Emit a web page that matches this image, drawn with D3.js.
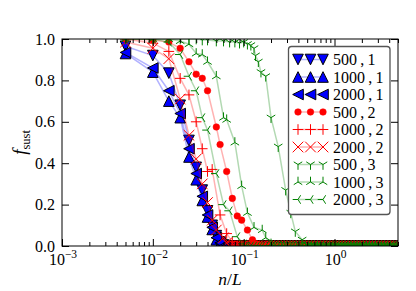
<!DOCTYPE html>
<html lang="en">
<head>
    <meta charset="utf-8">
    <script src="https://d3js.org/d3.v7.min.js"></script>
    <style>
        body { margin: 0; padding: 0; background: #fff; }
        svg text { font-family: "Liberation Serif", "DejaVu Serif", serif; fill: #000; }
    </style>
</head>
<body>
<svg id="chart" width="416" height="291"></svg>
<script>
    // ---- data ----
    var xBlue = [0.005, 0.01, 0.015, 0.02, 0.025, 0.03, 0.035, 0.04, 0.045, 0.05, 0.055, 0.06];
    var y500_1 = [0.965, 0.92, 0.835, 0.68, 0.51, 0.38, 0.27, 0.17, 0.10, 0.05, 0.02, 0.005];
    var y1000_1 = [0.93, 0.84, 0.70, 0.62, 0.43, 0.32, 0.22, 0.14, 0.08, 0.03, 0.01, 0];
    var y2000_1 = [0.935, 0.86, 0.75, 0.64, 0.47, 0.35, 0.24, 0.15, 0.09, 0.04, 0.015, 0];

    var x500_2 = [0.005, 0.01, 0.015, 0.02, 0.025, 0.03, 0.035, 0.04, 0.05, 0.055, 0.065, 0.075, 0.085, 0.095, 0.11, 0.125, 0.14];
    var y500_2 = [1.0, 0.995, 0.985, 0.955, 0.89, 0.83, 0.81, 0.75, 0.575, 0.49, 0.36, 0.23, 0.145, 0.125, 0.077, 0.03, 0.01];
    var x1000_2 = [0.005, 0.01, 0.015, 0.02, 0.025, 0.03, 0.035, 0.04, 0.045, 0.055, 0.065, 0.075];
    var y1000_2 = [1.0, 0.98, 0.94, 0.81, 0.73, 0.60, 0.47, 0.36, 0.37, 0.15, 0.06, 0.02];
    var x2000_2 = [0.005, 0.01, 0.015, 0.02, 0.025, 0.03, 0.035, 0.04, 0.045, 0.05, 0.06, 0.065];
    var y2000_2 = [0.985, 0.955, 0.905, 0.71, 0.535, 0.42, 0.30, 0.21, 0.125, 0.077, 0.04, 0.015];

    var x500_3 = [0.005, 0.01, 0.015, 0.02, 0.025, 0.03, 0.035, 0.04, 0.05, 0.06, 0.07, 0.08, 0.09, 0.1, 0.11, 0.12, 0.13, 0.135, 0.145, 0.155, 0.175, 0.2, 0.24, 0.29, 0.33, 0.37, 0.44, 0.5];
    var y500_3 = [1, 1, 1, 1, 1, 1, 0.995, 0.995, 0.99, 0.99, 0.985, 0.985, 0.98, 0.985, 0.975, 0.97, 0.955, 0.92, 0.89, 0.84, 0.82, 0.62, 0.48, 0.27, 0.16, 0.07, 0.03, 0.005];
    var x1000_3 = [0.005, 0.01, 0.015, 0.02, 0.025, 0.03, 0.035, 0.04, 0.05, 0.06, 0.065, 0.08, 0.095, 0.11, 0.13, 0.16, 0.175, 0.2];
    var y1000_3 = [1, 1, 1, 0.99, 0.975, 0.93, 0.925, 0.89, 0.82, 0.62, 0.61, 0.50, 0.29, 0.16, 0.09, 0.077, 0.04, 0.01];
    var x2000_3 = [0.005, 0.01, 0.015, 0.02, 0.025, 0.03, 0.035, 0.04, 0.05, 0.06, 0.07, 0.085, 0.1];
    var y2000_3 = [1, 1, 0.985, 0.925, 0.82, 0.75, 0.62, 0.56, 0.35, 0.2, 0.17, 0.045, 0.01];

    // every curve sits at zero for the rest of the range
    var tailX = [0.065, 0.07, 0.075, 0.08, 0.085, 0.09, 0.095, 0.1, 0.105, 0.11, 0.12, 0.13, 0.14, 0.15, 0.16, 0.175, 0.19, 0.205, 0.22, 0.24, 0.26, 0.28, 0.3, 0.325, 0.35, 0.38, 0.41, 0.44, 0.48, 0.52, 0.56, 0.6, 0.65, 0.7, 0.76, 0.82, 0.89, 0.96, 1.04, 1.12, 1.21, 1.31, 1.42, 1.53, 1.65, 1.78, 1.92, 2.08, 2.25, 2.43, 2.62, 2.83, 3.05, 3.3, 3.56, 3.85, 4.15, 4.5, 4.85];

    var labels = ["500\u2009,\u20091", "1000\u2009,\u20091", "2000\u2009,\u20091",
                  "500\u2009,\u20092", "1000\u2009,\u20092", "2000\u2009,\u20092",
                  "500\u2009,\u20093", "1000\u2009,\u20093", "2000\u2009,\u20093"];
    var xTicks = [1e-3, 1e-2, 1e-1, 1];
    var xTickExp = ["\u22123", "\u22122", "\u22121", "0"];
    var yTicks = [0, 0.2, 0.4, 0.6, 0.8, 1.0];

    var series = [
        { xs: xBlue, ys: y500_1, color: "#0000ff", marker: "v" },
        { xs: xBlue, ys: y1000_1, color: "#0000ff", marker: "^" },
        { xs: xBlue, ys: y2000_1, color: "#0000ff", marker: "<" },
        { xs: x500_2, ys: y500_2, color: "#ff0000", marker: "o" },
        { xs: x1000_2, ys: y1000_2, color: "#ff0000", marker: "+" },
        { xs: x2000_2, ys: y2000_2, color: "#ff0000", marker: "x" },
        { xs: x500_3, ys: y500_3, color: "#008000", marker: "1" },
        { xs: x1000_3, ys: y1000_3, color: "#008000", marker: "2" },
        { xs: x2000_3, ys: y2000_3, color: "#008000", marker: "3" }
    ];
    series.forEach(function (s, i) {
        s.label = labels[i];
        var pts = s.xs.map(function (xv, j) { return [xv, s.ys[j]]; });
        var last = s.xs[s.xs.length - 1];
        tailX.forEach(function (xv) { if (xv > last) pts.push([xv, 0]); });
        s.points = pts;
    });

    // ---- layout ----
    var svg = d3.select("#chart");
    var pL = 62, pT = 39, pR = 398, pB = 246;

    var x = d3.scaleLog().domain([1e-3, 5]).range([pL, pR]);
    var y = d3.scaleLinear().domain([0, 1]).range([pB, pT]);

    svg.append("clipPath").attr("id", "plotclip")
        .append("rect")
        .attr("x", pL).attr("y", pT)
        .attr("width", pR - pL).attr("height", pB - pT);

    function markerPath(m, s) {
        switch (m) {
            case "v": return "M" + (-s) + "," + (-s) + "L" + s + "," + (-s) + "L0," + s + "Z";
            case "^": return "M0," + (-s) + "L" + s + "," + s + "L" + (-s) + "," + s + "Z";
            case "<": return "M" + (-s) + ",0L" + s + "," + (-s) + "L" + s + "," + s + "Z";
            case "+": return "M" + (-s) + ",0H" + s + "M0," + (-s) + "V" + s;
            case "x": return "M" + (-s) + "," + (-s) + "L" + s + "," + s + "M" + (-s) + "," + s + "L" + s + "," + (-s);
            case "1": return "M0,0V" + s + "M0,0L" + (0.8 * s) + "," + (-0.5 * s) + "M0,0L" + (-0.8 * s) + "," + (-0.5 * s);
            case "2": return "M0,0V" + (-s) + "M0,0L" + (0.8 * s) + "," + (0.5 * s) + "M0,0L" + (-0.8 * s) + "," + (0.5 * s);
            case "3": return "M0,0H" + (-s) + "M0,0L" + (0.5 * s) + "," + (-0.8 * s) + "M0,0L" + (0.5 * s) + "," + (0.8 * s);
        }
    }

    function drawMarker(g, m, color, cx, cy) {
        if (m === "o") {
            g.append("circle").attr("cx", cx).attr("cy", cy).attr("r", 3.3)
                .attr("fill", color).attr("stroke", color).attr("stroke-width", 0.5);
            return;
        }
        var p = g.append("path")
            .attr("d", markerPath(m, 5.3))
            .attr("transform", "translate(" + cx + "," + cy + ")");
        if (m === "v" || m === "^" || m === "<") {
            p.attr("fill", color).attr("stroke", "#000").attr("stroke-width", 1);
        } else {
            p.attr("fill", "none").attr("stroke", color).attr("stroke-width", 1);
        }
    }

    var line = d3.line()
        .x(function (d) { return x(d[0]); })
        .y(function (d) { return y(d[1]); });

    var plot = svg.append("g").attr("clip-path", "url(#plotclip)");
    series.forEach(function (s) {
        var g = plot.append("g");
        g.append("path")
            .datum(s.points)
            .attr("d", line)
            .attr("fill", "none")
            .attr("stroke", s.color)
            .attr("stroke-opacity", 0.3)
            .attr("stroke-width", 1.5);
        s.points.forEach(function (d) {
            drawMarker(g, s.marker, s.color, x(d[0]), y(d[1]));
        });
    });

    // ---- axes: inward ticks on all four sides ----
    var minorX = [];
    [1e-3, 1e-2, 1e-1, 1].forEach(function (dec) {
        for (var k = 2; k <= 9; k++) { if (dec * k <= 5) minorX.push(dec * k); }
    });

    svg.append("g").attr("transform", "translate(0," + pB + ")")
        .call(d3.axisBottom(x).tickValues(xTicks).tickSize(-7).tickFormat(""));
    svg.append("g").attr("transform", "translate(0," + pB + ")")
        .call(d3.axisBottom(x).tickValues(minorX).tickSize(-4).tickFormat(""));
    svg.append("g").attr("transform", "translate(0," + pT + ")")
        .call(d3.axisTop(x).tickValues(xTicks).tickSize(-7).tickFormat(""));
    svg.append("g").attr("transform", "translate(0," + pT + ")")
        .call(d3.axisTop(x).tickValues(minorX).tickSize(-4).tickFormat(""));
    svg.append("g").attr("transform", "translate(" + pL + ",0)")
        .call(d3.axisLeft(y).tickValues(yTicks).tickSize(-7).tickFormat(""));
    svg.append("g").attr("transform", "translate(" + pR + ",0)")
        .call(d3.axisRight(y).tickValues(yTicks).tickSize(-7).tickFormat(""));
    svg.selectAll(".domain").remove();
    svg.selectAll(".tick line").attr("stroke", "#000").attr("stroke-width", 1);

    svg.append("rect")
        .attr("x", pL).attr("y", pT)
        .attr("width", pR - pL).attr("height", pB - pT)
        .attr("fill", "none").attr("stroke", "#000").attr("stroke-width", 1);

    // tick labels
    xTicks.forEach(function (t, i) {
        var tx = svg.append("text")
            .attr("x", x(t) + 1).attr("y", 265)
            .attr("text-anchor", "middle")
            .style("font-size", "16px");
        tx.append("tspan").text("10");
        tx.append("tspan").attr("dy", -7).style("font-size", "11.5px").text(xTickExp[i]);
    });
    yTicks.forEach(function (t) {
        svg.append("text")
            .attr("x", 55).attr("y", y(t) + 5.5)
            .attr("text-anchor", "end")
            .style("font-size", "16px")
            .text(d3.format(".1f")(t));
    });

    // axis labels
    var xl = svg.append("text")
        .attr("x", (pL + pR) / 2).attr("y", 285)
        .attr("text-anchor", "middle")
        .style("font-size", "17.5px")
        .style("font-style", "italic");
    xl.append("tspan").text("n");
    xl.append("tspan").style("font-style", "normal").text("/");
    xl.append("tspan").text("L");

    var yl = svg.append("text")
        .attr("transform", "translate(26," + ((pT + pB) / 2) + ") rotate(-90)")
        .attr("text-anchor", "middle")
        .style("font-size", "19px");
    yl.append("tspan").style("font-style", "italic").text("f");
    yl.append("tspan").attr("dy", 4).style("font-size", "12.5px").text("sust");

    // ---- legend ----
    var lg = svg.append("g");
    lg.append("rect")
        .attr("x", 288.5).attr("y", 46.5)
        .attr("width", 101.5).attr("height", 168)
        .attr("rx", 3).attr("ry", 3)
        .attr("fill", "#fff").attr("stroke", "#555").attr("stroke-width", 1.3);
    series.forEach(function (s, i) {
        var cy = 59.5 + i * 17.5;
        var row = lg.append("g");
        row.append("line")
            .attr("x1", 298).attr("x2", 323).attr("y1", cy).attr("y2", cy)
            .attr("stroke", s.color).attr("stroke-opacity", 0.3).attr("stroke-width", 1.5);
        [298, 310.5, 323].forEach(function (mx) { drawMarker(row, s.marker, s.color, mx, cy); });
        row.append("text")
            .attr("x", 333).attr("y", cy + 5.5)
            .style("font-size", "16px")
            .text(s.label);
    });
</script>
</body>
</html>
